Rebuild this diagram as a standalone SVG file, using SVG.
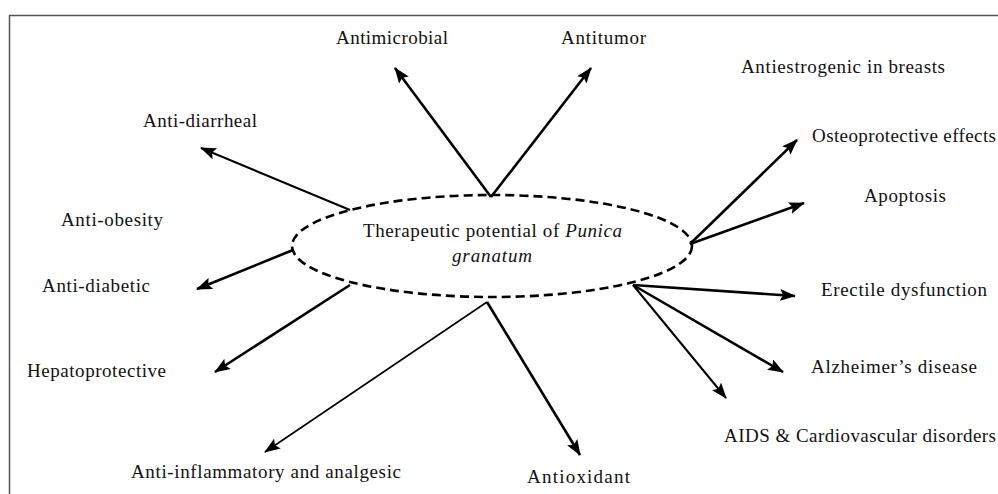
<svg xmlns="http://www.w3.org/2000/svg" width="998" height="494" viewBox="0 0 998 494">
<defs>
<marker id="ah" markerUnits="userSpaceOnUse" markerWidth="16" markerHeight="12" refX="15" refY="6" orient="auto" viewBox="0 0 16 12">
<path d="M0,0 L16,6 L0,12 L3,6 z" fill="#000"/>
</marker>
<style>
.t{font-family:"Liberation Serif","Times New Roman",serif;font-size:19px;fill:#111}
.c{stroke:#000;fill:none;stroke-width:2.6;marker-end:url(#ah)}
.thin{stroke-width:1.6}
.mid{stroke-width:2}
</style>
</defs>
<rect width="998" height="494" fill="#fff"/>
<path d="M9.5,494 L9.5,15.5 L998,15.5" fill="none" stroke="#555" stroke-width="1.5"/>
<g id="connectors">
<line class="c" x1="491" y1="197" x2="395" y2="68"/>
<line class="c" x1="491" y1="197" x2="591" y2="68"/>
<line class="c mid" x1="350" y1="210" x2="201" y2="148"/>
<line class="c" x1="293" y1="250" x2="197" y2="289"/>
<line class="c" x1="350" y1="285" x2="215" y2="372"/>
<line class="c thin" x1="487" y1="302" x2="265" y2="452"/>
<line class="c" x1="487" y1="302" x2="580" y2="455"/>
<line class="c" x1="690" y1="244" x2="797" y2="140"/>
<line class="c" x1="690" y1="244" x2="804" y2="203"/>
<line class="c" x1="633" y1="285" x2="795" y2="296"/>
<line class="c" x1="633" y1="285" x2="783" y2="372"/>
<line class="c mid" x1="633" y1="285" x2="726" y2="398"/>
</g>
<g id="center">
<ellipse cx="492" cy="246" rx="200" ry="51" fill="none" stroke="#000" stroke-width="2.6" stroke-dasharray="9 5"/>
<text class="t" x="363" y="237" textLength="259" lengthAdjust="spacing">Therapeutic potential of <tspan font-style="italic">Punica</tspan></text>
<text class="t" x="452" y="262" font-style="italic" textLength="80" lengthAdjust="spacing">granatum</text>
</g>
<g id="n-antimicrobial"><text class="t" x="336" y="44" textLength="112" lengthAdjust="spacing">Antimicrobial</text></g>
<g id="n-antitumor"><text class="t" x="561" y="44" textLength="85" lengthAdjust="spacing">Antitumor</text></g>
<g id="n-antiestrogenic"><text class="t" x="741" y="73" textLength="204" lengthAdjust="spacing">Antiestrogenic in breasts</text></g>
<g id="n-antidiarrheal"><text class="t" x="143" y="127" textLength="114" lengthAdjust="spacing">Anti-diarrheal</text></g>
<g id="n-osteoprotective"><text class="t" x="812" y="142" textLength="184" lengthAdjust="spacing">Osteoprotective effects</text></g>
<g id="n-apoptosis"><text class="t" x="864" y="202" textLength="82" lengthAdjust="spacing">Apoptosis</text></g>
<g id="n-antiobesity"><text class="t" x="61" y="226" textLength="102" lengthAdjust="spacing">Anti-obesity</text></g>
<g id="n-antidiabetic"><text class="t" x="42" y="292" textLength="108" lengthAdjust="spacing">Anti-diabetic</text></g>
<g id="n-erectile"><text class="t" x="821" y="296" textLength="166" lengthAdjust="spacing">Erectile dysfunction</text></g>
<g id="n-hepatoprotective"><text class="t" x="27" y="377" textLength="139" lengthAdjust="spacing">Hepatoprotective</text></g>
<g id="n-alzheimer"><text class="t" x="811" y="373" textLength="166" lengthAdjust="spacing">Alzheimer’s disease</text></g>
<g id="n-aids"><text class="t" x="724" y="442" textLength="272" lengthAdjust="spacing">AIDS &amp; Cardiovascular disorders</text></g>
<g id="n-antiinflammatory"><text class="t" x="131" y="478" textLength="270" lengthAdjust="spacing">Anti-inflammatory and analgesic</text></g>
<g id="n-antioxidant"><text class="t" x="527" y="483" textLength="103" lengthAdjust="spacing">Antioxidant</text></g>
</svg>
